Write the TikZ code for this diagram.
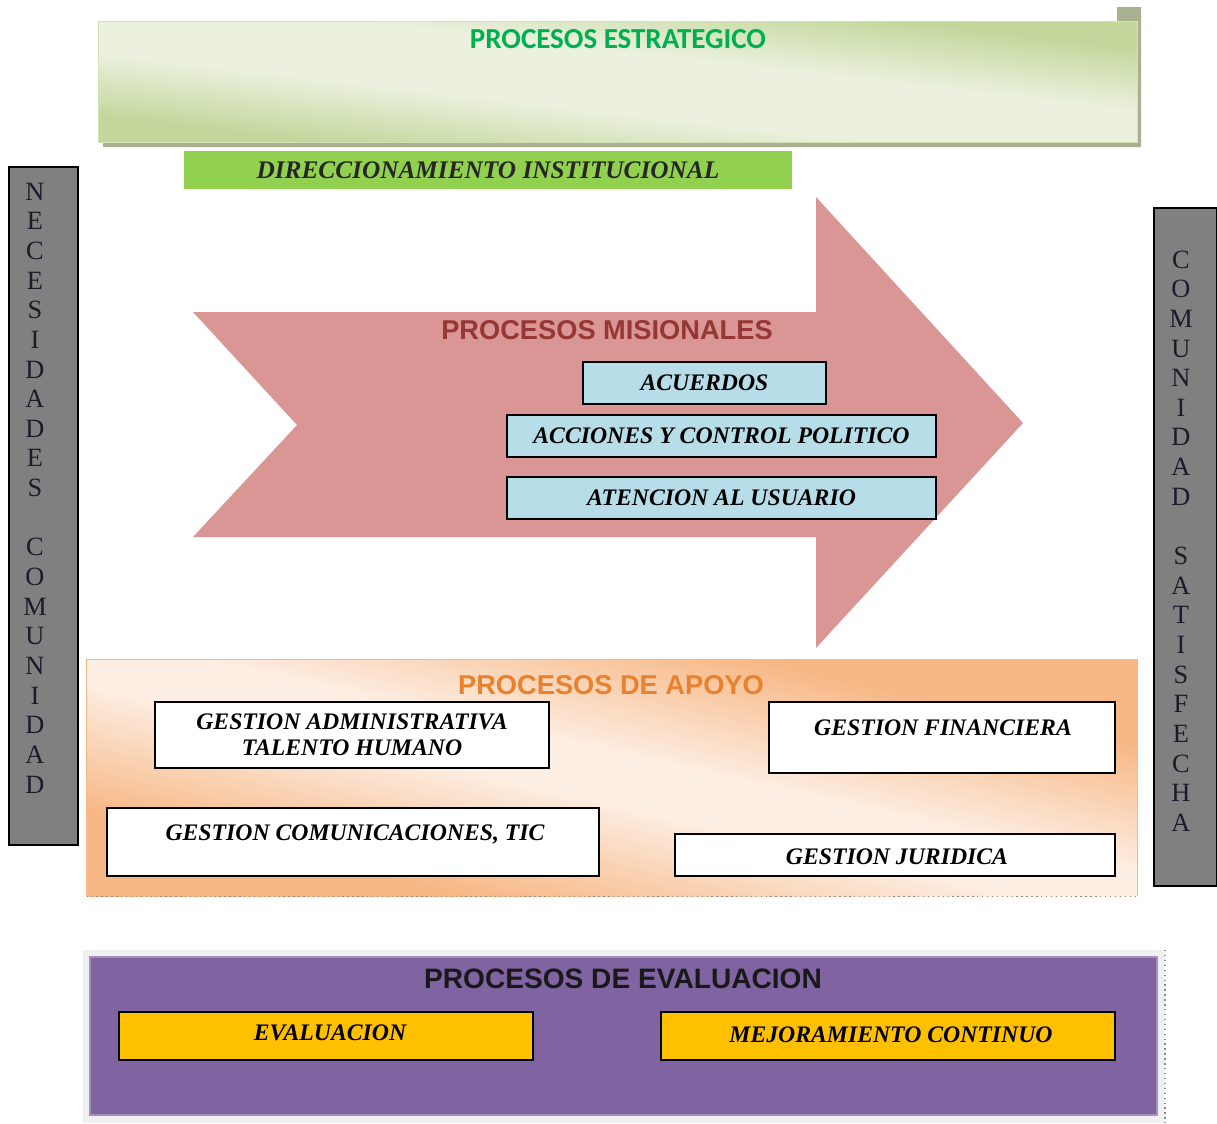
\documentclass[tikz,border=0pt]{standalone}
\usepackage{fontspec}
\setmainfont{Liberation Serif}
\newfontfamily\arialf{Liberation Sans}
\newfontfamily\calibf{Carlito}
\definecolor{shadowgreen}{HTML}{A9B191}
\definecolor{lightgreen}{HTML}{EBF1DE}
\definecolor{midgreen}{HTML}{C3D69B}
\definecolor{dirgreen}{HTML}{92D050}
\definecolor{titlegreen}{HTML}{00B050}
\definecolor{arrowpink}{HTML}{D99694}
\definecolor{misred}{HTML}{953735}
\definecolor{boxblue}{HTML}{B7DDE8}
\definecolor{peachin}{HTML}{FDEEE3}
\definecolor{peachout}{HTML}{F7B886}
\definecolor{apoyoorange}{HTML}{E8822F}
\definecolor{evalpurple}{HTML}{8064A2}
\definecolor{evalyellow}{HTML}{FFC000}
\definecolor{bargray}{HTML}{808080}
\definecolor{lettercol}{HTML}{1B1B2A}
\pgfdeclareverticalshading{greenband}{100bp}{color(0bp)=(midgreen); color(28bp)=(midgreen);
  color(43bp)=(lightgreen); color(57bp)=(lightgreen); color(72bp)=(midgreen); color(100bp)=(midgreen)}
\pgfdeclareverticalshading{peachband}{100bp}{color(0bp)=(peachout); color(31bp)=(peachout);
  color(47bp)=(peachin); color(53bp)=(peachin); color(69bp)=(peachout); color(100bp)=(peachout)}
\tikzset{
  scriptfont/.style={font=\fontsize{13.5}{15}\selectfont\bfseries\itshape},
  scriptbox/.style={draw=black, line width=0.9pt, scriptfont, inner sep=0pt},
  bluebox/.style={scriptbox, fill=boxblue},
  whitebox/.style={scriptbox, fill=white},
  yellowbox/.style={scriptbox, fill=evalyellow},
  sidebar/.style={draw=black, line width=0.9pt, fill=bargray, inner sep=0pt},
  sideletters/.style={text=lettercol, align=center, font=\fontsize{15}{16.87}\selectfont},
  titlesans/.style={font=\arialf\bfseries\fontsize{15.5}{17}\selectfont},
}
\begin{document}
\begin{tikzpicture}[x=0.02cm,y=-0.02cm]
\useasboundingbox (0,0) rectangle (1217,1123);

% ---------- Procesos estrategico ----------
\fill[shadowgreen] (1117,7) -- (1141,7) -- (1141,147) -- (103,147) -- (103,142)
  -- (1137,142) -- (1137,22) -- (1117,22) -- cycle;
\node[minimum width={1038*0.02cm}, minimum height={120*0.02cm}, inner sep=0pt]
      (estrat) at (618,82) {};
\shade[shading=greenband, shading angle=-6.6, draw=midgreen!60!lightgreen, line width=0.8pt]
      (estrat.north west) rectangle (estrat.south east);
\node[text=titlegreen, font=\calibf\bfseries\fontsize{16.5}{18}\selectfont]
      (estrattitle) at (618,39) {PROCESOS ESTRATEGICO};

\node[fill=dirgreen, minimum width={608*0.02cm}, minimum height={38*0.02cm}, inner sep=0pt,
      font=\fontsize{14.4}{15}\selectfont\itshape\bfseries, text=black!85]
      (direc) at (488,170) {DIRECCIONAMIENTO INSTITUCIONAL};

% ---------- side bars ----------
\node[sidebar, minimum width={69*0.02cm}, minimum height={678*0.02cm}] (necbar) at (43.5,506) {};
\node[sideletters] (necsign) at (35,488)
  {N\\E\\C\\E\\S\\I\\D\\A\\D\\E\\S\\\mbox{}\\C\\O\\M\\U\\N\\I\\D\\A\\D};
\node[sidebar, minimum width={63*0.02cm}, minimum height={678*0.02cm}] (combar) at (1185.5,547) {};
\node[sideletters] (comsign) at (1181,541)
  {C\\O\\M\\U\\N\\I\\D\\A\\D\\\mbox{}\\S\\A\\T\\I\\S\\F\\E\\C\\H\\A};

% ---------- Procesos misionales ----------
\fill[arrowpink] (193,312) -- (816,312) -- (816,197) -- (1023,423) -- (816,648)
  -- (816,537) -- (193,537) -- (297,425) -- cycle;
\node[titlesans, text=misred] (mistitle) at (607,330) {PROCESOS MISIONALES};
\node[bluebox, minimum width={243*0.02cm}, minimum height={42*0.02cm}] (acuerdos) at (704.5,383) {ACUERDOS};
\node[bluebox, minimum width={429*0.02cm}, minimum height={42*0.02cm}] (acciones) at (721.5,436) {ACCIONES Y CONTROL POLITICO};
\node[bluebox, minimum width={429*0.02cm}, minimum height={42*0.02cm}] (atencion) at (721.5,498) {ATENCION AL USUARIO};

% ---------- Procesos de apoyo ----------
\node[minimum width={1050*0.02cm}, minimum height={236*0.02cm}, inner sep=0pt]
      (apoyo) at (612,778) {};
\shade[shading=peachband, shading angle=-12.7] (apoyo.north west) rectangle (apoyo.south east);
\draw[peachout, line width=0.6pt] (apoyo.south west) -- (apoyo.north west) -- (apoyo.north east) -- (apoyo.south east);
\draw[dotted, line width=0.8pt, black!45] (apoyo.south west) -- (apoyo.south east);
\node[titlesans, text=apoyoorange] (apoyotitle) at (611,685) {PROCESOS DE APOYO};
\node[whitebox, minimum width={394*0.02cm}, minimum height={66*0.02cm}, align=center]
      (admin) at (352,735) {GESTION ADMINISTRATIVA\\TALENTO HUMANO};
\node[whitebox, minimum width={346*0.02cm}, minimum height={71*0.02cm}] (financiera) at (942,737.5) {};
\node[scriptfont] (fintext) at (943,728) {GESTION FINANCIERA};
\node[whitebox, minimum width={492*0.02cm}, minimum height={68*0.02cm}] (comunic) at (353,842) {};
\node[scriptfont] (comtext) at (355,834) {GESTION COMUNICACIONES, TIC};
\node[whitebox, minimum width={440*0.02cm}, minimum height={42*0.02cm}] (juridica) at (895,855) {};
\node[scriptfont] (jurtext) at (897,857) {GESTION JURIDICA};

% ---------- Procesos de evaluacion ----------
\fill[black!6] (83,950) rectangle (1165,1123);
\draw[dotted, line width=0.8pt, black!45] (1165,950) -- (1165,1123);
\node[draw=evalpurple!70!white, line width=0.6pt, fill=evalpurple,
      minimum width={1067*0.02cm}, minimum height={158*0.02cm}, inner sep=0pt]
      (evalbox) at (623.5,1036) {};
\node[font=\arialf\bfseries\fontsize{16}{18}\selectfont, text=black!90] (evaltitle) at (623,979) {PROCESOS DE EVALUACION};
\node[yellowbox, minimum width={414*0.02cm}, minimum height={48*0.02cm}] (evaluacion) at (326,1036) {};
\node[scriptfont] (evaltext) at (330,1033) {EVALUACION};
\node[yellowbox, minimum width={454*0.02cm}, minimum height={48*0.02cm}] (mejora) at (888,1036) {};
\node[scriptfont] (mejtext) at (891,1035) {MEJORAMIENTO CONTINUO};
\end{tikzpicture}
\end{document}
